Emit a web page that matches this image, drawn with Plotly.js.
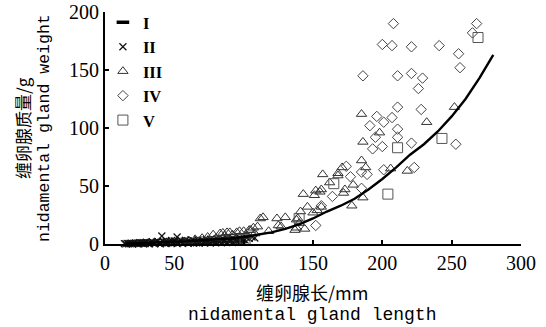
<!DOCTYPE html>
<html>
<head>
<meta charset="utf-8">
<script src="https://cdn.plot.ly/plotly-3.0.1.min.js"></script>
<style>html,body{margin:0;padding:0;background:#fff;}#chart{width:546px;height:327px;}</style>
</head>
<body>
<div id="chart"></div>
<script>
// Series names (legend)
var seriesNames = ["I", "II", "III", "IV", "V"];

// I: fitted curve
var curveX = [15,20,30,40,50,60,70,80,90,100,110,120,130,140,150,160,170,180,190,200,210,220,230,240,250,260,270,280];
var curveY = [0.2,0.4,0.9,1.3,1.8,2.4,3.2,3.9,4.8,6,7.8,10,13,17,22,28,33,39,47,56,66,77,86,97,110,125,143,163];

// II
var s2X = [14,16,18,19,21,22,24,25,27,28,30,31,33,34,35,37,38,40,41,42,44,45,47,48,50,51,52,54,55,57,58,60,61,63,64,66,67,69,70,72,73,75,76,78,79,81,82,84,85,87,88,90,92,93,95,97,98,100,102,104,106,108,
  15,17,20,23,26,29,32,36,39,43,46,49,53,56,59,62,65,68,71,74,77,80,83,86,89,91,94,96,99,101,
  20,24,28,32,36,40,44,48,52,56,60,64,68,72,76,80,84,88,92,96,26,34,42,50,58,66,74,82,90,98];
var s2Y = [0.3,0.5,0.4,0.8,0.6,1.0,0.7,1.2,0.9,1.1,1.5,0.8,1.3,2.0,1.0,1.6,2.2,1.4,6.9,1.8,2.5,1.2,2.0,3.0,1.7,2.4,6.0,1.9,2.8,2.2,3.1,2.6,1.9,3.3,2.7,2.1,3.6,2.9,3.2,2.4,3.8,3.0,4.1,2.6,3.5,4.2,3.1,3.8,4.6,2.9,4.4,3.6,5.0,4.0,3.4,5.3,4.5,3.9,5.6,4.8,6.0,5.2,
  0.1,0.2,0.3,0.3,0.5,0.4,0.7,0.6,0.9,0.8,1.1,1.0,1.3,1.2,1.6,1.4,1.9,1.7,2.2,2.0,2.5,2.3,2.8,2.6,3.1,2.9,3.4,3.2,3.7,3.5,
  0.0,0.1,0.2,0.1,0.3,0.2,0.4,0.5,0.3,0.6,0.5,0.8,0.7,1.0,0.9,1.2,1.1,1.4,1.3,1.6,1.0,1.6,2.3,2.7,3.0,1.0,1.5,1.8,2.0,2.4];

// III
var s3X = [185,186,232,198,185,188,171,168,157,162,179,173,156,186,178,218,206,252,143,152,155,151,146,153,156,150,141,139,138,144,130,124,125,114,112,110,107,118,104,100,95,90,85,168,127,138,172,140,137,60,65,70,74,78,80,83,86,88,92,97,102,105,108];
var s3Y = [112,88,105,96,72,66,66,59,60,53,51,47,47,40,33,63,65,118,43,46,45,42,32,29,32,27,28,22,14,13,23,22,16,23,22,15,14,11,12,11,10,10,9.5,61,15,21,44,18,12,3,4,5,6,8,5,9,7,10,8,11,7,12,9];

// IV
var s4X = [208,268,200,207,221,241,265,255,256,186,211,221,229,226,211,228,196,207,201,191,211,211,195,193,200,221,253,201,223,189,185,174,177,164,156,152,185];
var s4Y = [190,190,172,171,170,171,182,164,152,145,145,147,143,134,118,116,110,109,105,102,99,92,92,82,84,87,86,64,66,60,48,67,58,41,33,16,62];

// V
var s5X = [165,140,211,204,243,269,101];
var s5Y = [52,22,83,43,91,178,4];

var xTicks = [0,50,100,150,200,250,300];
var yTicks = [0,50,100,150,200];

var serif = "Liberation Serif";
var mono = "Liberation Mono";
var cjk = "Noto Sans CJK SC";

var traces = [
  {x:[null], y:[null], mode:"markers", name:seriesNames[0], showlegend:true,
   marker:{symbol:"line-ew-open", size:9, color:"#000", line:{width:3.5, color:"#000"}}},
  {x:s2X, y:s2Y, mode:"markers", name:seriesNames[1], cliponaxis:false,
   marker:{symbol:"x-thin-open", size:7, color:"#111", line:{width:1.2, color:"#111"}}},
  {x:s3X, y:s3Y, mode:"markers", name:seriesNames[2], cliponaxis:false,
   marker:{symbol:"triangle-up-open", size:9, color:"#333", line:{width:1, color:"#333"}}},
  {x:s4X, y:s4Y, mode:"markers", name:seriesNames[3], cliponaxis:false,
   marker:{symbol:"diamond-open", size:8, color:"#444", line:{width:1, color:"#444"}}},
  {x:s5X, y:s5Y, mode:"markers", name:seriesNames[4], cliponaxis:false,
   marker:{symbol:"square-open", size:10, color:"#555", line:{width:1, color:"#555"}}},
  {x:curveX, y:curveY, mode:"lines", name:seriesNames[0], showlegend:false,
   line:{color:"#000", width:2.4}}
];

var layout = {
  width:546, height:327,
  margin:{l:105, r:25, t:12, b:83, pad:0, autoexpand:false},
  paper_bgcolor:"#fff", plot_bgcolor:"#fff",
  showlegend:true,
  legend:{x:-0.005, y:1.03, xanchor:"left", yanchor:"top", bgcolor:"rgba(0,0,0,0)",
    font:{family:serif, size:16.5, color:"#000", weight:"bold"}, itemclick:false},
  xaxis:{range:[0,300], tickvals:xTicks, ticktext:xTicks.map(String), ticks:"inside", ticklen:4, tickwidth:2,
    tickcolor:"#000", showline:true, linecolor:"#000", linewidth:2, showgrid:false, zeroline:false,
    tickfont:{family:serif, size:20, color:"#000"}, fixedrange:true},
  yaxis:{range:[0,200], tickvals:yTicks, ticktext:yTicks.map(String), ticks:"inside", ticklen:4, tickwidth:2,
    tickcolor:"#000", showline:true, linecolor:"#000", linewidth:2, showgrid:false, zeroline:false,
    tickfont:{family:serif, size:20, color:"#000"}, fixedrange:true},
  annotations:[
    {xref:"paper", yref:"paper", x:-0.1995, y:0.5, xanchor:"center", yanchor:"middle", textangle:-90,
     showarrow:false, text:"缠卵腺质量/g", font:{family:cjk, size:17, color:"#000"}},
    {xref:"paper", yref:"paper", x:-0.1466, y:0.5, xanchor:"center", yanchor:"middle", textangle:-90,
     showarrow:false, text:"nidamental gland weight", font:{family:mono, size:16.5, color:"#000"}},
    {xref:"paper", yref:"paper", x:0.4976, y:-0.207, xanchor:"center", yanchor:"middle",
     showarrow:false, text:"缠卵腺长/mm", font:{family:cjk, size:18, color:"#000"}},
    {xref:"paper", yref:"paper", x:0.4976, y:-0.306, xanchor:"center", yanchor:"middle",
     showarrow:false, text:"nidamental gland length", font:{family:mono, size:18, color:"#000"}}
  ]
};

Plotly.newPlot("chart", traces, layout, {displayModeBar:false, staticPlot:true});
</script>
</body>
</html>
